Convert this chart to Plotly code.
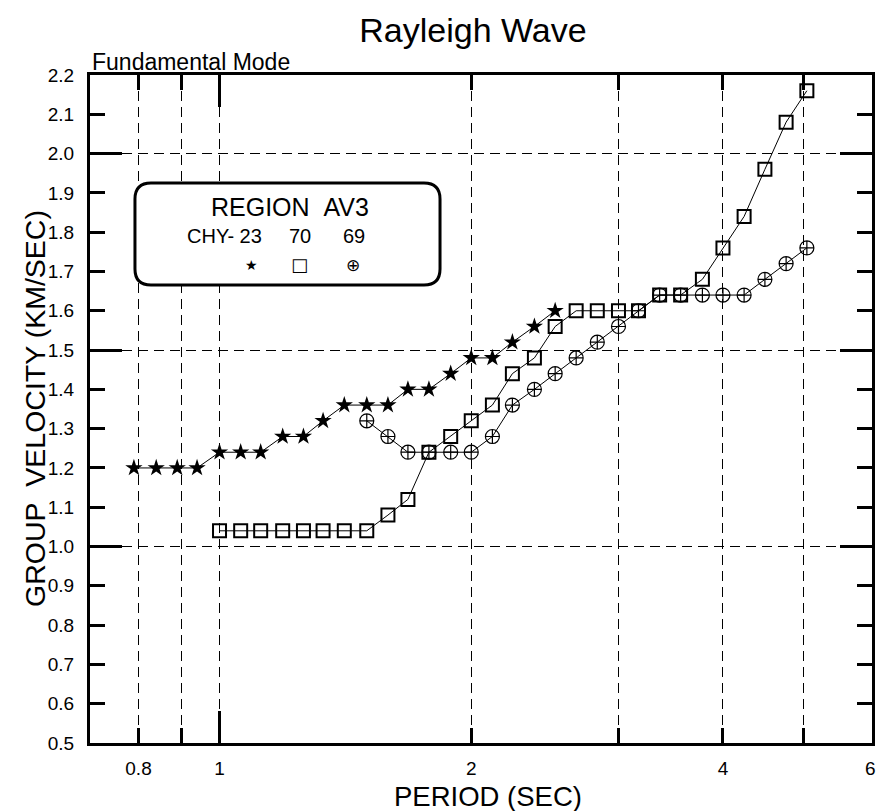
import math
import plotly.graph_objects as go

# ---- dispersion data: period (s) vs group velocity (km/s) ----
CHY23_PERIOD = [0.79, 0.84, 0.89, 0.94, 1.00, 1.06, 1.12, 1.19, 1.26, 1.33, 1.41,
                1.50, 1.59, 1.68, 1.78, 1.89, 2.00, 2.12, 2.24, 2.38, 2.52]
CHY23_VEL = [1.20, 1.20, 1.20, 1.20, 1.24, 1.24, 1.24, 1.28, 1.28, 1.32, 1.36,
             1.36, 1.36, 1.40, 1.40, 1.44, 1.48, 1.48, 1.52, 1.56, 1.60]

ST70_PERIOD = [1.00, 1.06, 1.12, 1.19, 1.26, 1.33, 1.41, 1.50, 1.59, 1.68, 1.78,
               1.89, 2.00, 2.12, 2.24, 2.38, 2.52, 2.67, 2.83, 3.00, 3.17, 3.36,
               3.56, 3.78, 4.00, 4.24, 4.49, 4.76, 5.04]
ST70_VEL = [1.04, 1.04, 1.04, 1.04, 1.04, 1.04, 1.04, 1.04, 1.08, 1.12, 1.24,
            1.28, 1.32, 1.36, 1.44, 1.48, 1.56, 1.60, 1.60, 1.60, 1.60, 1.64,
            1.64, 1.68, 1.76, 1.84, 1.96, 2.08, 2.16]

ST69_PERIOD = [1.50, 1.59, 1.68, 1.78, 1.89, 2.00, 2.12, 2.24, 2.38, 2.52, 2.67,
               2.83, 3.00, 3.17, 3.36, 3.56, 3.78, 4.00, 4.24, 4.49, 4.76, 5.04]
ST69_VEL = [1.32, 1.28, 1.24, 1.24, 1.24, 1.24, 1.28, 1.36, 1.40, 1.44, 1.48,
            1.52, 1.56, 1.60, 1.64, 1.64, 1.64, 1.64, 1.64, 1.68, 1.72, 1.76]

# ---- axis settings ----
X_RANGE = [0.70, 6.03]
Y_RANGE = [0.5, 2.2]
X_LABEL_VALS = [0.8, 1, 2, 4, 6]
X_LABEL_TEXT = ["0.8", "1", "2", "4", "6"]
X_SHORT_TICKS = [0.8, 0.9, 2, 3, 4, 5]
X_LONG_TICKS = [1]
Y_LONG_TICKS = [1.0, 1.5, 2.0]

FONT = "Liberation Sans, Arial, Helvetica, sans-serif"
SYM_FONT = "DejaVu Sans, sans-serif"
GRID_DASH = "10px,6px"

xr = [math.log10(v) for v in X_RANGE]

fig = go.Figure()

fig.add_trace(go.Scatter(
    x=CHY23_PERIOD, y=CHY23_VEL, mode="lines+markers", name="CHY-23",
    line=dict(color="black", width=1),
    marker=dict(symbol="star", size=13, color="black", line=dict(width=0)),
))
fig.add_trace(go.Scatter(
    x=ST70_PERIOD, y=ST70_VEL, mode="lines+markers", name="70",
    line=dict(color="black", width=1),
    marker=dict(symbol="square-open", size=13, color="black",
                line=dict(color="black", width=2)),
))
fig.add_trace(go.Scatter(
    x=ST69_PERIOD, y=ST69_VEL, mode="lines+markers", name="69",
    line=dict(color="black", width=1),
    marker=dict(symbol="circle-cross-open", size=14, color="black",
                line=dict(color="black", width=1.2)),
))

# empty traces that register the overlay axes carrying extra ticks and grid
for xa, ya in (("x2", "y"), ("x3", "y"), ("x", "y2")):
    fig.add_trace(go.Scatter(x=[], y=[], xaxis=xa, yaxis=ya, mode="markers",
                             hoverinfo="skip", showlegend=False))

common_x = dict(type="log", range=xr, automargin=False, zeroline=False)
common_y = dict(range=Y_RANGE, automargin=False, zeroline=False)
overlay_style = dict(ticks="inside", tickwidth=3, tickcolor="black",
                     mirror="ticks", showticklabels=False, showline=False,
                     showgrid=True, gridcolor="black", gridwidth=1,
                     griddash=GRID_DASH)

fig.update_layout(
    template="none",
    width=878, height=811,
    margin=dict(l=90, r=6, t=75, b=68, autoexpand=False),
    paper_bgcolor="white", plot_bgcolor="white",
    showlegend=False,
    font=dict(family=FONT, color="black"),
    title=dict(text="Rayleigh Wave", x=473 / 878, xanchor="center",
               xref="container", y=1 - 30 / 811, yanchor="middle",
               yref="container", font=dict(size=34, family=FONT)),
    xaxis=dict(**common_x, tickvals=X_LABEL_VALS, ticktext=X_LABEL_TEXT,
               ticks="", showgrid=False, showline=True, linecolor="black",
               linewidth=3, mirror=True, tickfont=dict(size=19),
               ticklabelstandoff=6),
    xaxis2=dict(**common_x, overlaying="x", anchor="y", side="bottom",
                tickvals=X_SHORT_TICKS, ticklen=15, **overlay_style),
    xaxis3=dict(**common_x, overlaying="x", anchor="y", side="bottom",
                tickvals=X_LONG_TICKS, ticklen=32, **overlay_style),
    yaxis=dict(**common_y, tick0=0.5, dtick=0.1, tickformat=".1f",
               ticks="inside", ticklen=15, tickwidth=3, tickcolor="black",
               showline=True, linecolor="black", linewidth=3, mirror="ticks",
               showgrid=False, tickfont=dict(size=19), ticklabelstandoff=9),
    yaxis2=dict(**common_y, overlaying="y", anchor="x", side="left",
                tickvals=Y_LONG_TICKS, ticklen=32, **overlay_style),
)

# ---- rounded legend panel (paper coordinates) ----
bx0, bx1, by0, by1 = 0.0575, 0.4476, 0.6856, 0.8383
rx, ry = 0.0205, 0.024
panel = (f"M {bx0 + rx},{by1} L {bx1 - rx},{by1} Q {bx1},{by1} {bx1},{by1 - ry} "
         f"L {bx1},{by0 + ry} Q {bx1},{by0} {bx1 - rx},{by0} "
         f"L {bx0 + rx},{by0} Q {bx0},{by0} {bx0},{by0 + ry} "
         f"L {bx0},{by1 - ry} Q {bx0},{by1} {bx0 + rx},{by1} Z")
fig.add_shape(type="path", path=panel, xref="paper", yref="paper",
              line=dict(color="black", width=3), fillcolor="white",
              layer="above")


def note(text, x, y, size, family=FONT, **kw):
    fig.add_annotation(text=text, x=x, y=y, xref="paper", yref="paper",
                       showarrow=False, xanchor=kw.get("xanchor", "center"),
                       yanchor="middle", textangle=kw.get("angle", 0),
                       font=dict(size=size, family=family, color="black"))


note("REGION&nbsp;&nbsp;AV3", 0.2558, 0.8024, 25)
note("CHY- 23", 0.1714, 0.759, 20)
note("70", 0.2685, 0.759, 20)
note("69", 0.3376, 0.759, 20)
note("★", 0.2059, 0.7156, 14, SYM_FONT)
note("□", 0.2673, 0.7156, 18, SYM_FONT)
note("⊕", 0.3363, 0.7156, 17, SYM_FONT)

note("Fundamental Mode", 0.0, 1.0195, 23, xanchor="left")
note("PERIOD (SEC)", 0.509, -0.0808, 27.5)
note("GROUP&nbsp;&nbsp;VELOCITY (KM/SEC)", -0.0703, 0.5, 28.5, angle=-90)

fig.write_html("out.html")
